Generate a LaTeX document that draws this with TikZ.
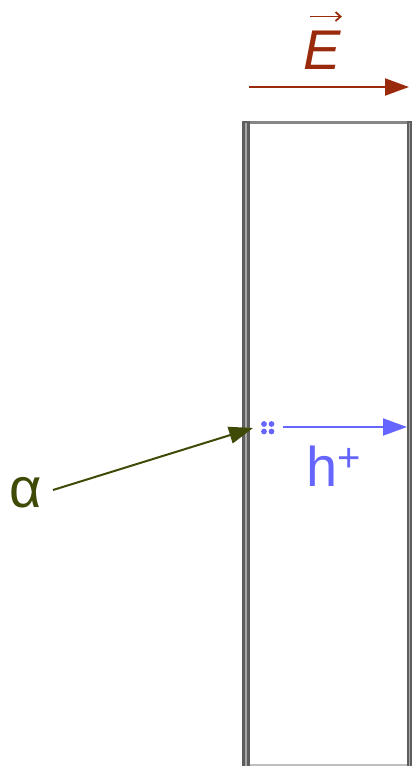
\documentclass[tikz,border=0pt]{standalone}
\usepackage{fontspec}
\setmainfont{Liberation Sans}
\usetikzlibrary{arrows.meta}
\definecolor{efield}{HTML}{992B0C}
\definecolor{alphacol}{HTML}{3E4A05}
\definecolor{holecol}{HTML}{6666FF}
\definecolor{wallcol}{HTML}{5E5E5E}
\tikzset{
  lbl/.style={inner sep=0pt,font=\fontsize{56}{60}\selectfont},
  tipa/.style={-{Triangle[length=24pt,width=17pt]}}
}
\begin{document}
\begin{tikzpicture}[x=1pt,y=-1pt]
\useasboundingbox (0,0) rectangle (414,766);
% field
\node[lbl,text=efield] (efld) at (322,50) {\itshape E};
\draw[efield,line width=1.8pt,-{Straight Barb[length=5pt,width=9pt]}] ([xshift=7pt,yshift=14pt]efld.north west) -- ([xshift=1pt,yshift=14pt]efld.north east);
\coordinate (e0) at (249,87);
\coordinate (e1) at (409,87);
\draw[efield,line width=2pt,tipa] (e0) -- (e1);
% slab
\draw[wallcol!75,line width=3pt] (242,122) -- (412,122);
\fill[wallcol] (242,120.5) rectangle (249.5,766);
\fill[wallcol!55] (245,123) rectangle (246.5,766);
\fill[wallcol] (407,120.5) rectangle (412,766);
\fill[wallcol!55] (409,123) rectangle (410,766);
\draw[wallcol!40,line width=1.2pt] (249.5,765) -- (407,765);
% alpha
\node[lbl,text=alphacol] (alp) at (26,493) {α};
\coordinate (hit) at (253,428);
\draw[alphacol,line width=2pt,tipa] (53,490) -- (hit);
% hole
\foreach \x/\y in {264/424,271.5/424,264/431.5,271.5/431.5}{\fill[holecol] (\x,\y) circle (2.9pt);}
\coordinate (h0) at (283,427);
\coordinate (h1) at (407,427);
\draw[holecol,line width=2pt,tipa] (h0) -- (h1);
\node[lbl,text=holecol] (hp) at (334,466) {h\raisebox{15pt}{\fontsize{40}{40}\selectfont +}};
\end{tikzpicture}
\end{document}
